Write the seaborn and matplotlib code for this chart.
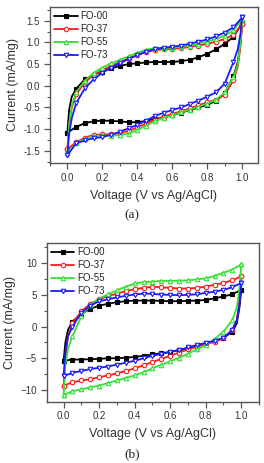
import numpy as np
import pandas as pd
import seaborn as sns
import matplotlib.pyplot as plt
from matplotlib.ticker import MultipleLocator

# voltage sweep: forward 0 -> 1 V, then reverse 1 -> 0 V
v_fwd = [0.0, 0.01, 0.025, 0.05, 0.1, 0.15, 0.2, 0.25, 0.3, 0.35, 0.4, 0.45,
         0.5, 0.55, 0.6, 0.65, 0.7, 0.75, 0.8, 0.85, 0.9, 0.95, 1.0]
v_rev = [1.0, 0.99, 0.975, 0.95, 0.9, 0.85, 0.8, 0.75, 0.7, 0.65, 0.6, 0.55,
         0.5, 0.45, 0.4, 0.35, 0.3, 0.25, 0.2, 0.15, 0.1, 0.05, 0.0]

samples = ["FO-00", "FO-37", "FO-55", "FO-73"]

# panel (a)
a_fo00_fwd = [-1.08, -0.55, -0.25, -0.07, 0.15, 0.25, 0.33, 0.40, 0.46, 0.50, 0.52, 0.54,
              0.55, 0.55, 0.55, 0.57, 0.60, 0.66, 0.74, 0.84, 0.97, 1.13, 1.45]
a_fo00_rev = [1.45, 1.0, 0.55, 0.22, -0.17, -0.35, -0.44, -0.50, -0.56, -0.62, -0.68, -0.73,
              -0.76, -0.81, -0.84, -0.84, -0.82, -0.81, -0.80, -0.82, -0.86, -0.95, -1.08]
a_fo37_fwd = [-1.45, -0.9, -0.5, -0.2, 0.08, 0.25, 0.36, 0.46, 0.55, 0.63, 0.71, 0.78,
              0.82, 0.84, 0.85, 0.87, 0.90, 0.93, 0.97, 1.02, 1.08, 1.18, 1.42]
a_fo37_rev = [1.42, 0.9, 0.45, 0.13, -0.21, -0.32, -0.38, -0.45, -0.52, -0.59, -0.65, -0.71,
              -0.78, -0.87, -0.96, -1.04, -1.09, -1.12, -1.12, -1.13, -1.20, -1.30, -1.46]
a_fo55_fwd = [-1.55, -0.9, -0.45, -0.15, 0.12, 0.30, 0.42, 0.52, 0.60, 0.68, 0.76, 0.83,
              0.87, 0.88, 0.88, 0.90, 0.93, 0.97, 1.02, 1.08, 1.16, 1.28, 1.55]
a_fo55_rev = [1.55, 1.0, 0.5, 0.2, -0.15, -0.32, -0.41, -0.48, -0.55, -0.61, -0.68, -0.74,
              -0.82, -0.92, -1.02, -1.10, -1.14, -1.15, -1.14, -1.16, -1.22, -1.33, -1.55]
a_fo73_fwd = [-1.6, -1.1, -0.75, -0.4, -0.06, 0.15, 0.30, 0.42, 0.52, 0.62, 0.71, 0.79,
              0.85, 0.88, 0.90, 0.93, 0.97, 1.02, 1.07, 1.14, 1.23, 1.35, 1.58]
a_fo73_rev = [1.58, 1.2, 0.85, 0.55, 0.05, -0.15, -0.25, -0.34, -0.42, -0.50, -0.56, -0.62,
              -0.70, -0.80, -0.90, -0.98, -1.06, -1.13, -1.18, -1.21, -1.26, -1.33, -1.6]

# panel (b)
b_fo00_fwd = [-5.4, -2.5, -0.5, 0.8, 2.0, 2.8, 3.3, 3.6, 3.85, 4.0, 4.1, 4.1,
              4.1, 4.05, 4.0, 4.0, 4.05, 4.1, 4.2, 4.45, 4.75, 5.1, 5.8]
b_fo00_rev = [5.8, 3.0, 0.5, -0.8, -1.8, -2.3, -2.6, -3.0, -3.4, -3.7, -4.0, -4.2,
              -4.4, -4.6, -4.8, -4.9, -5.0, -5.0, -5.1, -5.15, -5.2, -5.2, -5.4]
b_fo37_fwd = [-9.3, -5.0, -1.5, 0.5, 2.4, 3.6, 4.3, 4.8, 5.2, 5.6, 5.9, 6.1,
              6.3, 6.2, 6.1, 6.0, 6.0, 6.1, 6.3, 6.6, 6.9, 7.3, 7.9]
b_fo37_rev = [7.9, 4.0, 1.0, -0.5, -1.8, -2.4, -2.8, -3.2, -3.6, -4.1, -4.6, -5.1,
              -5.6, -6.1, -6.6, -7.0, -7.4, -7.7, -8.0, -8.3, -8.5, -8.8, -9.3]
b_fo55_fwd = [-10.8, -6.0, -3.5, -1.5, 1.6, 3.4, 4.4, 5.1, 5.7, 6.3, 6.8, 7.0,
              7.1, 7.2, 7.2, 7.25, 7.3, 7.45, 7.6, 8.0, 8.5, 9.0, 9.8]
b_fo55_rev = [9.8, 6.0, 3.0, 1.0, -0.8, -2.0, -2.9, -3.6, -4.3, -4.9, -5.5, -6.0,
              -6.6, -7.2, -7.7, -8.1, -8.5, -8.9, -9.3, -9.6, -9.9, -10.2, -10.8]
b_fo73_fwd = [-7.8, -4.0, -1.5, 0.0, 2.2, 3.3, 4.0, 4.3, 4.6, 4.85, 5.05, 5.2,
              5.15, 5.05, 5.0, 4.95, 5.0, 5.1, 5.3, 5.5, 5.8, 6.2, 6.9]
b_fo73_rev = [6.9, 3.5, 1.0, -0.5, -1.8, -2.2, -2.6, -2.9, -3.3, -3.7, -4.0, -4.3,
              -4.6, -5.0, -5.4, -5.7, -6.0, -6.3, -6.5, -6.7, -7.0, -7.3, -7.8]

panel_a = [a_fo00_fwd + a_fo00_rev, a_fo37_fwd + a_fo37_rev,
           a_fo55_fwd + a_fo55_rev, a_fo73_fwd + a_fo73_rev]
panel_b = [b_fo00_fwd + b_fo00_rev, b_fo37_fwd + b_fo37_rev,
           b_fo55_fwd + b_fo55_rev, b_fo73_fwd + b_fo73_rev]

sns.set_theme(style="ticks")
plt.rcParams["font.family"] = ["Liberation Sans", "DejaVu Sans"]

colors = ["black", "#ff1a1a", "#33e033", "#1a1aff"]
markers = ["s", "o", "^", "v"]
fills = ["black", "white", "white", "white"]
edge = "#555555"

volt = v_fwd + v_rev
# markers only on the 0.05 V grid
mark_idx = [i for i, v in enumerate(volt) if abs(v * 20 - round(v * 20)) < 1e-6]

fig = plt.figure(figsize=(2.64, 4.63), dpi=100)
ax_a = fig.add_axes([0.189, 0.648, 0.788, 0.337])
ax_b = fig.add_axes([0.177, 0.1324, 0.804, 0.343])

for ax, panel in [(ax_a, panel_a), (ax_b, panel_b)]:
    for name, cur, c, m, fc in zip(samples, panel, colors, markers, fills):
        df = pd.DataFrame({"voltage": volt, "current": cur})
        sns.lineplot(data=df, x="voltage", y="current", ax=ax, sort=False,
                     estimator=None, color=c, lw=1.3, marker=m, markersize=3.2,
                     markerfacecolor=fc, markeredgecolor=c, markeredgewidth=0.8,
                     markevery=mark_idx, label=name)
    ax.set_xlabel("Voltage (V vs Ag/AgCl)", fontsize=9, color="#333333", labelpad=5)
    ax.set_ylabel("Current (mA/mg)", fontsize=9, color="#333333", labelpad=3)
    ax.xaxis.set_major_locator(MultipleLocator(0.2))
    ax.xaxis.set_minor_locator(MultipleLocator(0.1))
    ax.tick_params(which="major", direction="out", length=4, width=0.9,
                   labelsize=7, colors=edge, labelcolor="#333333", pad=3)
    ax.tick_params(which="minor", direction="out", length=2, width=0.8, colors=edge)
    for s in ax.spines.values():
        s.set_color(edge)
        s.set_linewidth(1.0)
    leg = ax.legend(loc="upper left", frameon=False, fontsize=7, handlelength=2.4,
                    handletextpad=0.3, labelspacing=0.3, borderaxespad=0.25,
                    borderpad=0.2, numpoints=1)
    # one marker in the middle of each legend line
    for line in leg.get_lines():
        line.set_markevery([1])

ax_a.set_xlim(-0.1, 1.09)
ax_a.set_ylim(-1.78, 1.82)
ax_a.yaxis.set_major_locator(MultipleLocator(0.5))
ax_a.yaxis.set_minor_locator(MultipleLocator(0.25))
ax_a.xaxis.set_major_formatter(plt.FormatStrFormatter("%.1f"))
ax_a.yaxis.set_major_formatter(plt.FormatStrFormatter("%.1f"))

ax_b.set_xlim(-0.095, 1.1)
ax_b.set_ylim(-11.85, 13.2)
ax_b.yaxis.set_major_locator(MultipleLocator(5))
ax_b.yaxis.set_minor_locator(MultipleLocator(2.5))
ax_b.xaxis.set_major_formatter(plt.FormatStrFormatter("%.1f"))

fig.text(0.5, 1 - 215 / 463, "(a)", ha="center", va="center", fontsize=9.5,
         family=["Liberation Serif", "DejaVu Serif"], color="#222222")
fig.text(0.5, 1 - 454 / 463, "(b)", ha="center", va="center", fontsize=9.5,
         family=["Liberation Serif", "DejaVu Serif"], color="#222222")

fig.savefig("out.png", dpi=100)
